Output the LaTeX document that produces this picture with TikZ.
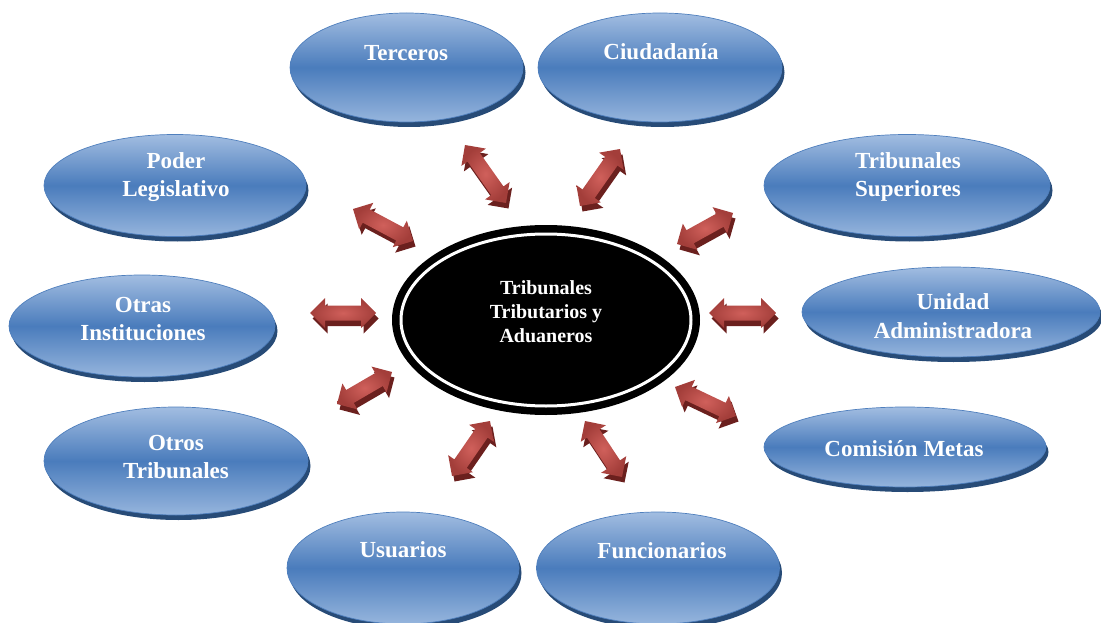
\documentclass[tikz,border=0pt]{standalone}
\usepackage{fontspec}
\setmainfont{Liberation Serif}
\usetikzlibrary{shapes.geometric,calc,shadows}

\definecolor{blobTop}{HTML}{A2BDE1}
\definecolor{blobMid}{HTML}{4A7CBC}
\definecolor{blobBot}{HTML}{96B5DD}
\definecolor{blobEdge}{HTML}{4F7FBD}
\definecolor{blobShade}{HTML}{274B77}
\definecolor{arrLight}{HTML}{D0605B}
\definecolor{arrDark}{HTML}{A33E3A}
\definecolor{arrShade}{HTML}{6B201E}

\tikzset{
  blob/.style={ellipse, inner sep=0pt, draw=blobEdge, line width=0.7pt,
    top color=blobTop, bottom color=blobBot, middle color=blobMid,
    drop shadow={shadow xshift=2.5pt, shadow yshift=-5pt, fill=blobShade, opacity=1}},
  blobtext/.style={text=white, font=\fontsize{23}{28.5}\selectfont\bfseries,
    align=center, inner sep=0pt},
  coretext/.style={text=white, font=\fontsize{20}{24}\selectfont\bfseries,
    align=center, inner sep=0pt},
  twoway shade/.style={arrShade, transform canvas={xshift=2.5pt, yshift=-5.5pt}},
  twoway body/.style={inner color=arrLight, outer color=arrDark}
}

% outline of a double-headed block arrow between two named points
\newcommand\twowaypath[2]{%
  (#1) -- ($(#1)!15pt!(#2)!15pt!90:(#2)$) -- ($(#1)!15pt!(#2)!7.5pt!90:(#2)$)
  -- ($(#2)!15pt!(#1)!7.5pt!-90:(#1)$) -- ($(#2)!15pt!(#1)!15pt!-90:(#1)$)
  -- (#2) -- ($(#2)!15pt!(#1)!15pt!90:(#1)$) -- ($(#2)!15pt!(#1)!7.5pt!90:(#1)$)
  -- ($(#1)!15pt!(#2)!7.5pt!-90:(#2)$) -- ($(#1)!15pt!(#2)!15pt!-90:(#2)$) -- cycle}

% extruded side first, then the shaded face
\newcommand\twoway[2]{%
  \fill[twoway shade] \twowaypath{#1}{#2};
  \shade[twoway body] \twowaypath{#1}{#2};
}

\begin{document}
\begin{tikzpicture}[x=1pt, y=-1pt]
  \useasboundingbox (0,0) rectangle (1101,623);
  \clip (0,0) rectangle (1101,623);

  % surrounding actors
  \node[blob, minimum width=233pt, minimum height=109pt] (ter) at (406.5,67.5) {};
  \node[blob, minimum width=244pt, minimum height=109pt] (ciu) at (660,67.5) {};
  \node[blob, minimum width=262pt, minimum height=102pt] (pod) at (175,185.5) {};
  \node[blob, minimum width=286pt, minimum height=102pt] (sup) at (907,185.5) {};
  \node[blob, minimum width=266pt, minimum height=102pt] (ins) at (142,326) {};
  \node[blob, minimum width=298pt, minimum height=90pt]  (uni) at (951,312) {};
  \node[blob, minimum width=264pt, minimum height=108pt] (otr) at (176,461) {};
  \node[blob, minimum width=282pt, minimum height=80pt]  (com) at (905,447) {};
  \node[blob, minimum width=232pt, minimum height=112pt] (usu) at (403,568) {};
  \node[blob, minimum width=243pt, minimum height=112pt] (fun) at (658,568) {};

  \node[blobtext] (ter-t) at (406,53)  {Terceros};
  \node[blobtext] (ciu-t) at (661,52)  {Ciudadanía};
  \node[blobtext] (pod-t) at (176,177) {Poder\\Legislativo};
  \node[blobtext] (sup-t) at (908,177) {Tribunales\\Superiores};
  \node[blobtext] (ins-t) at (143,319) {Otras\\Instituciones};
  \node[blobtext] (uni-t) at (953,316) {Unidad\\Administradora};
  \node[blobtext] (otr-t) at (176,457) {Otros\\Tribunales};
  \node[blobtext] (com-t) at (904,449) {Comisión Metas};
  \node[blobtext] (usu-t) at (403,550) {Usuarios};
  \node[blobtext] (fun-t) at (662,551) {Funcionarios};

  % central body
  \node[ellipse, fill=black, inner sep=0pt, minimum width=308pt, minimum height=190pt] (core) at (546,320) {};
  \node[ellipse, draw=white, line width=3pt, inner sep=0pt, minimum width=290pt, minimum height=172pt] (ring) at (core.center) {};
  \node[coretext] (core-t) at (546,312) {Tribunales\\Tributarios y\\Aduaneros};

  % arrow end points
  \coordinate (pod-a) at (353,209); \coordinate (pod-b) at (413,241);
  \coordinate (ter-a) at (465,145); \coordinate (ter-b) at (506,203);
  \coordinate (ciu-a) at (620,149); \coordinate (ciu-b) at (580,206);
  \coordinate (sup-a) at (733,213); \coordinate (sup-b) at (677,244);
  \coordinate (uni-a) at (709,313); \coordinate (uni-b) at (776,313);
  \coordinate (com-a) at (675,387); \coordinate (com-b) at (736,416);
  \coordinate (fun-a) at (585,421); \coordinate (fun-b) at (622,477);
  \coordinate (usu-a) at (490,421); \coordinate (usu-b) at (452,476);
  \coordinate (otr-a) at (392,372); \coordinate (otr-b) at (337,404);
  \coordinate (ins-a) at (310,313); \coordinate (ins-b) at (376,313);

  \twoway{pod-a}{pod-b}
  \twoway{ter-a}{ter-b}
  \twoway{ciu-a}{ciu-b}
  \twoway{sup-a}{sup-b}
  \twoway{uni-a}{uni-b}
  \twoway{com-a}{com-b}
  \twoway{fun-a}{fun-b}
  \twoway{usu-a}{usu-b}
  \twoway{otr-a}{otr-b}
  \twoway{ins-a}{ins-b}
\end{tikzpicture}
\end{document}
